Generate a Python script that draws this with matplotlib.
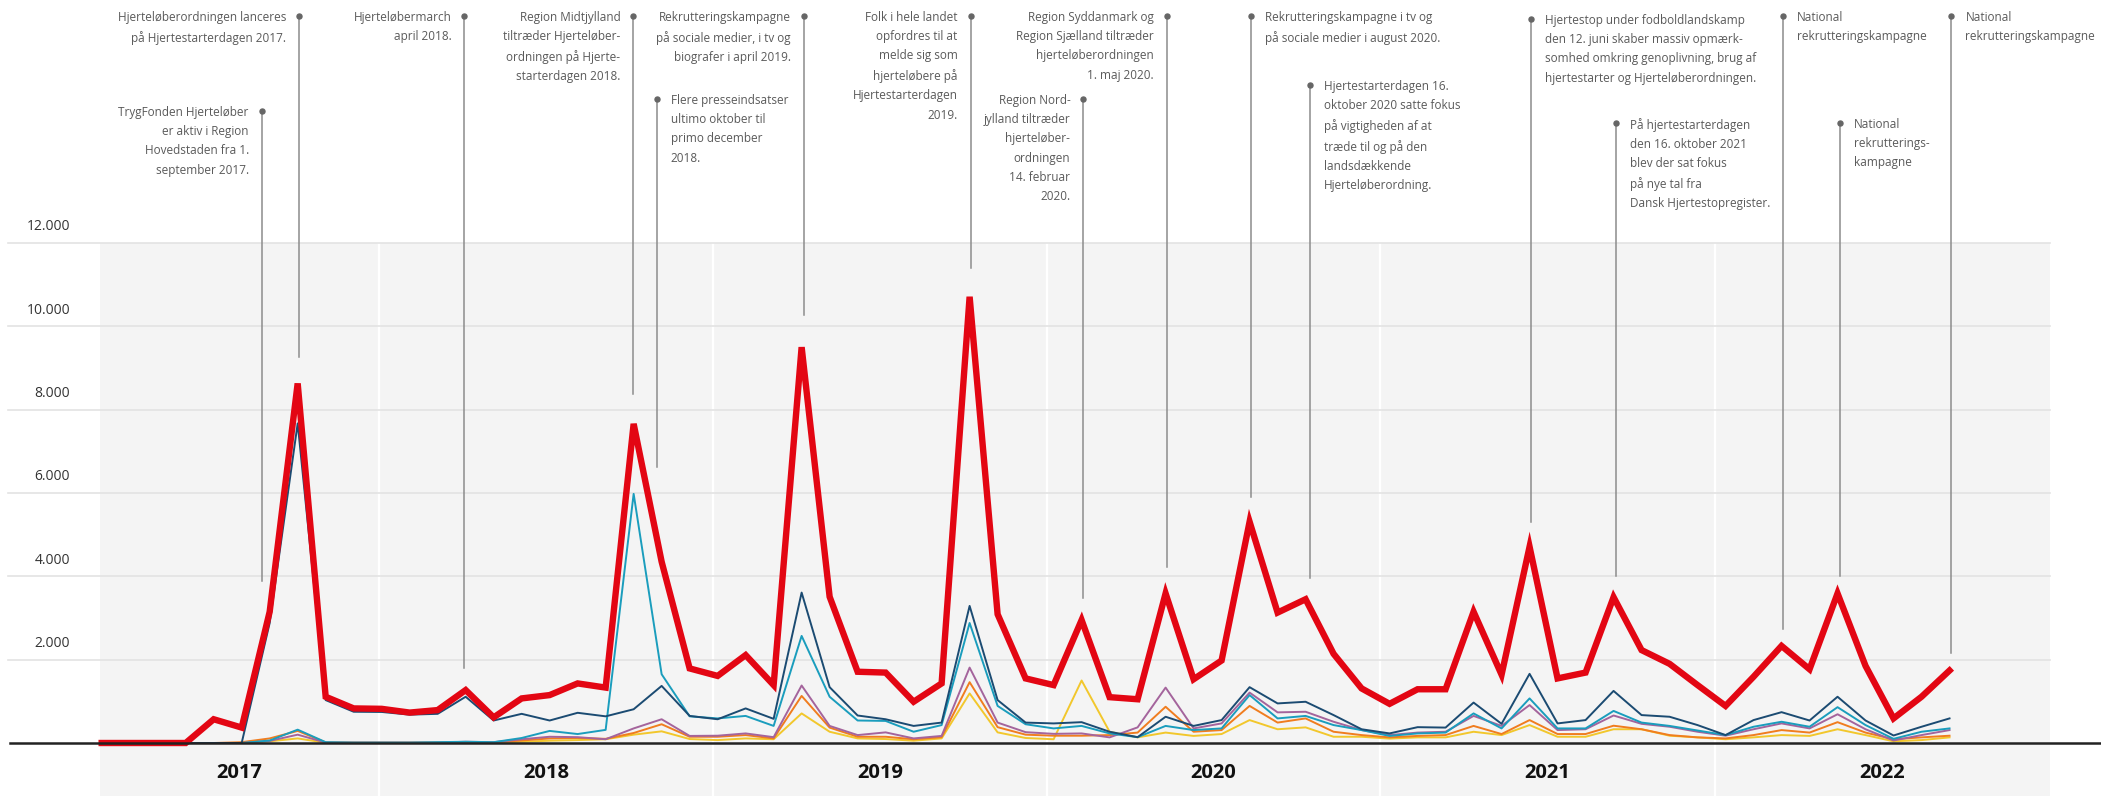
import matplotlib
matplotlib.use("Agg")
import matplotlib.pyplot as plt
import numpy as np
import pandas as pd

plt.rcParams['font.family'] = ['Open Sans', 'DejaVu Sans']

# months March 2017 .. September 2022
months = pd.period_range("2017-03", "2022-09", freq="M")
month_idx = np.array((months.year - 2017) * 12 + months.month - 1)

total = [0, 0, 0, 0, 570, 370, 3150, 8630, 1110, 830, 820, 730, 790, 1270, 615, 1070,
         1150, 1430, 1330, 7660, 4350, 1790, 1610, 2110, 1390, 9500, 3510, 1710, 1690, 990,
         1430, 10710, 3090, 1550, 1390, 2950, 1100, 1050, 3590, 1530, 1980, 5310, 3130, 3450,
         2140, 1310, 940, 1290, 1290, 3150, 1640, 4710, 1550, 1690, 3500, 2230, 1900, 1390,
         890, 1590, 2330, 1770, 3590, 1850, 590, 1110, 1740]
navy = [0, 0, 0, 0, 0, 0, 2880, 7670, 1030, 750, 745, 680, 700, 1110, 540, 700,
        540, 725, 640, 810, 1370, 650, 570, 830, 580, 3610, 1340, 660, 570, 410,
        490, 3290, 1030, 490, 470, 500, 270, 140, 630, 410, 550, 1340, 950, 990,
        670, 330, 230, 380, 370, 970, 460, 1660, 470, 550, 1250, 670, 630, 430,
        190, 550, 740, 540, 1110, 540, 180, 390, 590]
teal = [0, 0, 0, 0, 0, 0, 60, 320, 20, 10, 10, 10, 20, 30, 20, 120,
        290, 215, 315, 5980, 1650, 640, 590, 650, 410, 2570, 1110, 540, 530, 270,
        430, 2880, 890, 450, 350, 410, 230, 140, 410, 310, 350, 1150, 590, 650,
        430, 310, 170, 230, 250, 710, 350, 1070, 350, 350, 770, 490, 410, 300,
        190, 390, 510, 390, 860, 430, 100, 270, 350]
purple = [0, 0, 0, 0, 0, 0, 50, 200, 10, 10, 10, 10, 10, 30, 20, 90,
          150, 140, 90, 350, 570, 170, 175, 230, 140, 1380, 410, 190, 255, 110,
          170, 1810, 490, 260, 220, 230, 135, 375, 1330, 350, 470, 1210, 735, 750,
          510, 310, 190, 250, 270, 650, 410, 910, 310, 330, 660, 460, 390, 270,
          175, 330, 470, 350, 690, 330, 60, 190, 310]
orange = [0, 0, 0, 0, 0, 20, 110, 290, 15, 10, 10, 10, 15, 20, 15, 60,
          110, 120, 100, 240, 450, 150, 150, 190, 110, 1130, 370, 150, 150, 90,
          140, 1460, 380, 200, 175, 175, 190, 250, 870, 270, 310, 890, 490, 590,
          270, 190, 135, 170, 190, 410, 215, 550, 215, 215, 415, 330, 190, 135,
          110, 190, 310, 250, 500, 250, 90, 135, 175]
yellow = [0, 0, 0, 0, 0, 0, 40, 110, 5, 5, 5, 5, 5, 10, 10, 30,
          55, 70, 90, 200, 280, 95, 70, 110, 90, 710, 270, 110, 95, 55,
          110, 1190, 255, 120, 90, 1500, 270, 135, 250, 170, 215, 550, 330, 375,
          150, 150, 105, 135, 135, 270, 190, 430, 150, 150, 330, 330, 175, 135,
          90, 135, 190, 170, 330, 190, 40, 70, 135]

years = ["2017", "2018", "2019", "2020", "2021", "2022"]
year_edges = [1.94, 11.9, 23.83, 35.76, 47.65, 59.62, 71.58]
y_ticks = [2000, 4000, 6000, 8000, 10000, 12000]

# annotations: month position, top of marker line, bottom of line, text, side
ann_x = [9.06, 7.72, 14.95, 20.99, 21.83, 27.08, 33.04, 37.06, 40.04, 43.04,
         45.15, 53.05, 56.07, 62.06, 64.1, 68.07]
ann_top = [17448, 15168, 17448, 17448, 15456, 17448, 17448, 15456, 17448, 17448,
           15792, 17376, 14880, 17448, 14880, 17448]
ann_bottom = [9264, 3888, 1800, 8376, 6624, 10272, 11400, 3480, 4224, 5904,
              3960, 5304, 4008, 2736, 4008, 2160]
ann_side = ["l", "l", "l", "l", "r", "l", "l", "l", "l", "r", "r", "r", "r", "r", "r", "r"]
ann_text = [
    "Hjerteløberordningen lanceres\npå Hjertestarterdagen 2017.",
    "TrygFonden Hjerteløber\ner aktiv i Region\nHovedstaden fra 1.\nseptember 2017.",
    "Hjerteløbermarch\napril 2018.",
    "Region Midtjylland\ntiltræder Hjerteløber-\nordningen på Hjerte-\nstarterdagen 2018.",
    "Flere presseindsatser\nultimo oktober til\nprimo december\n2018.",
    "Rekrutteringskampagne\npå sociale medier, i tv og\nbiografer i april 2019.",
    "Folk i hele landet\nopfordres til at\nmelde sig som\nhjerteløbere på\nHjertestarterdagen\n2019.",
    "Region Nord-\njylland tiltræder\nhjerteløber-\nordningen\n14. februar\n2020.",
    "Region Syddanmark og\nRegion Sjælland tiltræder\nhjerteløberordningen\n1. maj 2020.",
    "Rekrutteringskampagne i tv og\npå sociale medier i august 2020.",
    "Hjertestarterdagen 16.\noktober 2020 satte fokus\npå vigtigheden af at\ntræde til og på den\nlandsdækkende\nHjerteløberordning.",
    "Hjertestop under fodboldlandskamp\nden 12. juni skaber massiv opmærk-\nsomhed omkring genoplivning, brug af\nhjertestarter og Hjerteløberordningen.",
    "På hjertestarterdagen\nden 16. oktober 2021\nblev der sat fokus\npå nye tal fra\nDansk Hjertestopregister.",
    "National\nrekrutteringskampagne",
    "National\nrekrutterings-\nkampagne",
    "National\nrekrutteringskampagne",
]

fig = plt.figure(figsize=(21.01, 7.96), dpi=100)
ax = fig.add_axes([0, 0, 1, 1])
ax.set_xlim(-1.632, 73.41)
ax.set_ylim(-1272, 17832)
ax.axis("off")

# grey band and year separators
ax.fill_between([year_edges[0], year_edges[-1]], -1272, 12000, color="#f4f4f4", lw=0, zorder=0)
for e in year_edges[1:-1]:
    ax.plot([e, e], [-1272, 12000], color="white", lw=1.6, zorder=1)

for t in y_ticks:
    ax.plot([-1.35, year_edges[-1]], [t, t], color="#e3e3e3", lw=1.2, zorder=1)
    ax.text(0.87, t + 384, f"{t:,}".replace(",", "."), ha="right", va="center",
            fontsize=10, color="#333333")
ax.plot([-1.28, 73.41], [0, 0], color="#222222", lw=1.8, zorder=6)

for i, y in enumerate(years):
    ax.text((year_edges[i] + year_edges[i + 1]) / 2, -720, y, ha="center", va="center",
            fontsize=14.5, fontweight="bold", color="#111111")

# annotations
for x, top, bot, txt, side in zip(ann_x, ann_top, ann_bottom, ann_text, ann_side):
    ax.plot([x, x], [bot, top], color="#8c8c8c", lw=1.1, zorder=2)
    ax.plot([x], [top], "o", color="#666666", ms=3.6, zorder=3)
    if side == "l":
        ax.annotate(txt, xy=(x, top), xytext=(-13, 5), textcoords="offset pixels",
                    ha="right", va="top", ma="right", fontsize=8.5, color="#5a5a5a",
                    linespacing=1.62)
    else:
        ax.annotate(txt, xy=(x, top), xytext=(14, 5), textcoords="offset pixels",
                    ha="left", va="top", ma="left", fontsize=8.5, color="#5a5a5a",
                    linespacing=1.62)

ax.plot(month_idx, yellow, color="#f2c72c", lw=1.4, zorder=3)
ax.plot(month_idx, orange, color="#f07d1f", lw=1.4, zorder=3)
ax.plot(month_idx, purple, color="#a4649c", lw=1.4, zorder=3)
ax.plot(month_idx, teal, color="#1a9dbd", lw=1.4, zorder=3)
ax.plot(month_idx, navy, color="#1b4b72", lw=1.4, zorder=3)
ax.plot(month_idx, total, color="#e30613", lw=4.6, zorder=5, solid_joinstyle="miter")

fig.savefig("out.png", dpi=100)
